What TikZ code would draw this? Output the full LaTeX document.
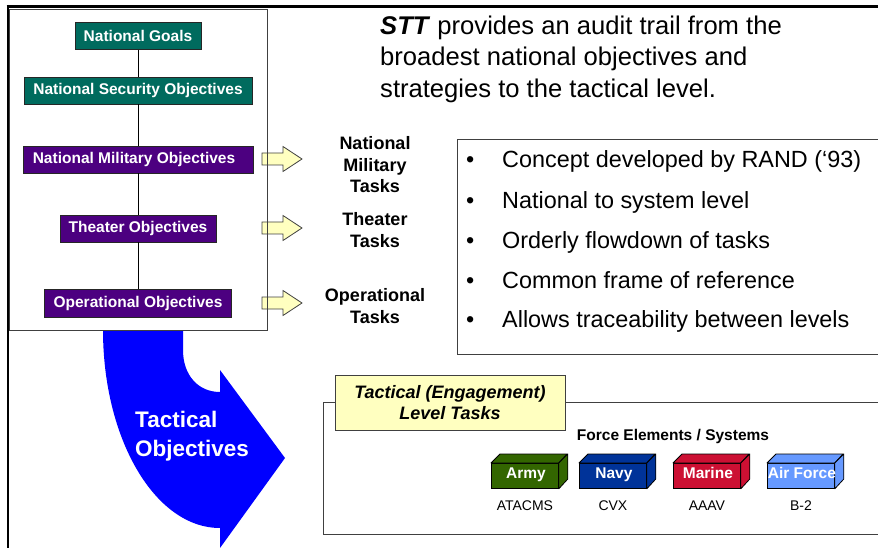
\documentclass[tikz,border=0pt]{standalone}
\usepackage{fontspec}
\setmainfont{Liberation Sans}
\usetikzlibrary{calc}
\definecolor{goalteal}{RGB}{0,107,94}
\definecolor{objpurple}{RGB}{76,0,128}
\definecolor{paleyellow}{RGB}{255,255,192}
\definecolor{armygreen}{RGB}{51,102,0}
\definecolor{navyblue}{RGB}{0,51,153}
\definecolor{marinered}{RGB}{204,16,51}
\definecolor{airblue}{RGB}{102,153,255}
\definecolor{edgegray}{RGB}{64,64,64}
\definecolor{flowblue}{RGB}{0,0,255}
\newcommand\fsz[2]{\fontsize{#1}{#2}\selectfont}

\begin{document}
\begin{tikzpicture}[x=1pt,y=-1pt,
  objbox/.style={draw=black!85, line width=0.8pt, inner sep=0pt, text=white,
    font=\fsz{15.5}{18}\bfseries, minimum height=27},
  goalbox/.style={objbox, fill=goalteal},
  milbox/.style={objbox, fill=objpurple},
  yarrow/.style={fill=paleyellow, draw=edgegray, line width=0.8pt},
  tasklbl/.style={align=center, inner sep=0pt, font=\fsz{18}{21.5}\bfseries},
  titleline/.style={anchor=base west, inner sep=0pt, font=\fsz{25.6}{31}},
  bullettxt/.style={anchor=base west, inner sep=0pt, font=\fsz{23.4}{28}},
  frameline/.style={draw=edgegray, line width=1pt},
  cubeface/.style={draw=black, line width=0.8pt, inner sep=0pt,
    minimum width=67, minimum height=25},
  cubetxt/.style={inner sep=0pt, anchor=base, text=white, font=\fsz{15.5}{18}\bfseries},
  cubelbl/.style={inner sep=0pt, anchor=base, font=\fsz{14}{16}}
]
\useasboundingbox (0,0) rectangle (878,548);

% outer page frame (top and left edges only)
\draw[line width=2.6pt] (6.5,6.3) -- (878,6.3);
\draw[line width=2.6pt] (7.8,5) -- (7.8,548);

% curved flow arrow towards the tactical level
\fill[flowblue] (103,330) .. controls (103,439) and (155,528) .. (220,528)
  -- (220,548) -- (285,458) -- (220,370) -- (220,392)
  .. controls (198,392) and (183,375) .. (183,350) -- (183,330) -- cycle;
\node[anchor=base west, inner sep=0pt, text=white,
  font=\fsz{22.5}{29}\bfseries] (tacobj) at (135,427) {Tactical};
\node[anchor=base west, inner sep=0pt, text=white,
  font=\fsz{22.5}{29}\bfseries] (tacobj2) at (135,456) {Objectives};

% hand-off arrows from the objectives panel
\foreach \yy/\nm in {159/a1, 228/a2, 303/a3}{
  \coordinate (\nm) at (282,\yy);
  \path[yarrow, shift={(\nm)}] (-20,-6) -- (1,-6) -- (1,-12.5) -- (20,0)
    -- (1,12.5) -- (1,6) -- (-20,6) -- cycle;
}

% objectives panel
\draw[frameline] (9.5,10) rectangle (267,330);
\node[goalbox, minimum width=126] (goals) at (138,36) {National Goals};
\node[goalbox, minimum width=228] (secur) at (138,90.5) {National Security Objectives};
\node[milbox, minimum width=230] (milit) at (138,159.5) {National Military Objectives\hspace*{8pt}};
\node[milbox, minimum width=156] (theat) at (138,228.5) {Theater Objectives};
\node[milbox, minimum width=187, minimum height=28] (operl) at (138,303) {Operational Objectives};
\draw[line width=0.8pt] (goals) -- (secur) -- (milit) -- (theat) -- (operl);

% task labels
\node[tasklbl] (t1) at (375,165) {National\\Military\\Tasks};
\node[tasklbl] (t2) at (375,230) {Theater\\Tasks};
\node[tasklbl] (t3) at (375,306) {Operational\\Tasks};

% heading text
\node[titleline] (h1) at (380,35) {\textbf{\textit{STT}} provides an audit trail from the};
\node[titleline] (h2) at (380,66) {broadest national objectives and};
\node[titleline] (h3) at (380,97.5) {strategies to the tactical level.};

% bullet list box
\draw[frameline] (457,140) -- (890,140) (457,140) -- (457,354) -- (890,354);
\foreach \yy/\txt [count=\i] in {168/{Concept developed by RAND (‘93)},
  208/{National to system level}, 248/{Orderly flowdown of tasks},
  288/{Common frame of reference}, 327/{Allows traceability between levels}}{
  \node[bullettxt] (b\i) at (466,\yy) {•};
  \node[bullettxt] (bt\i) at (502,\yy) {\txt};
}

% tactical level box
\draw[frameline] (890,402) -- (323,402) -- (323,534) -- (890,534);
\node[fill=paleyellow, draw=edgegray, line width=0.8pt, minimum width=230,
  minimum height=55, align=center, inner sep=0pt,
  font=\fsz{18}{21.5}\bfseries\itshape] (lvl) at (450,402.5)
  {Tactical (Engagement)\\Level Tasks};
\node[inner sep=0pt, anchor=base, font=\fsz{15.5}{18}\bfseries] (fes) at (673,440)
  {Force Elements / Systems};

% force element cubes
\foreach \xx/\col/\lab/\sys/\nm in {491/armygreen/Army/ATACMS/army,
  579/navyblue/Navy/CVX/navy, 673/marinered/Marine/AAAV/marine,
  767/airblue/Air Force/B-2/air}{
  \node[cubeface, fill=\col, anchor=north west] (\nm) at (\xx,463) {};
  \filldraw[fill=\col, draw=black, line width=0.8pt, line join=round]
    (\nm.north west) -- ++(9,-9) -- ++(67,0) -- (\nm.north east) -- cycle;
  \filldraw[fill=\col, draw=black, line width=0.8pt, line join=round]
    (\nm.north east) -- ++(9,-9) -- ++(0,25) -- (\nm.south east) -- cycle;
  \node[cubetxt] at ($(\nm.south)+(1,-10.5)$) {\lab};
  \node[cubelbl] (\nm-sys) at ($(\nm.south)+(0,22)$) {\sys};
}
\end{tikzpicture}
\end{document}
